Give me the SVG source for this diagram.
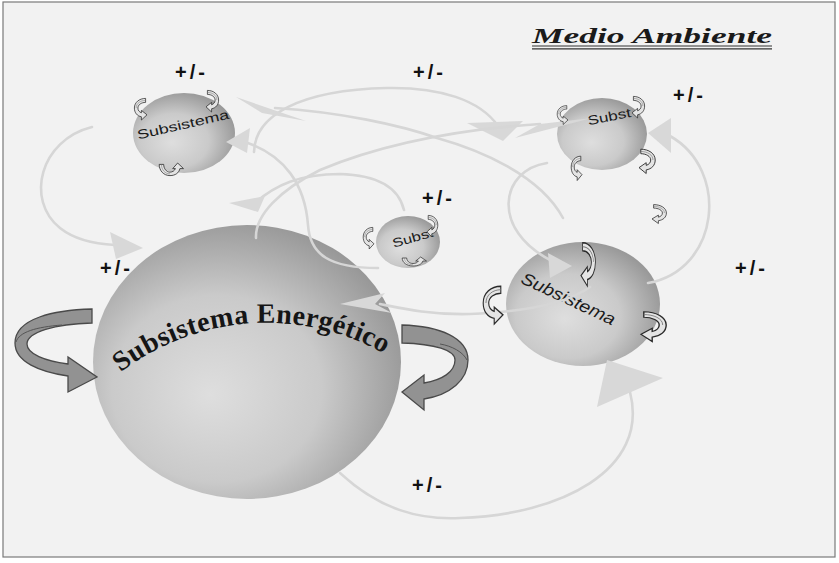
<svg xmlns="http://www.w3.org/2000/svg" width="839" height="563" viewBox="0 0 839 563">
  <defs>
    <radialGradient id="ball" cx="0.42" cy="0.58" r="0.62" fx="0.38" fy="0.62">
      <stop offset="0" stop-color="#dedede"/>
      <stop offset="0.55" stop-color="#cacaca"/>
      <stop offset="1" stop-color="#969696"/>
    </radialGradient>
    <!-- small twisted ribbon arrow, opening to the right, head at the lower end -->
    <g id="curl">
      <path class="curl" d="M8,-12 C-1,-12 -8,-7 -8,0 C-8,6 -4,10 2,11 L2,15 L10,8.5 L2,3 L2,6 C-1,5 -3,3 -3,0 C-3,-4 2,-7 8,-7 Z"/>
      <path d="M8,-9.5 C1,-9.5 -5.5,-6 -5.5,0" fill="none" stroke="#777" stroke-width="0.7"/>
    </g>
    <path id="energyArc" d="M116,376 A240,240 0 0 1 398,362"/>
  </defs>
  <style>
    .conn{fill:none;stroke:#d6d6d6;stroke-width:2.6;stroke-linecap:round}
    .head{fill:#d8d8d8}
    .pm{font-family:"Liberation Sans",Arial,sans-serif;font-size:20px;font-weight:bold;fill:#111;letter-spacing:3px}
    .ball{fill:url(#ball)}
    .curl{fill:#e4e4e4;stroke:#2a2a2a;stroke-width:1}
    .big-curl{fill:#929292;stroke:#4a4a4a;stroke-width:1.3}
    .lbl{font-family:"Liberation Sans",Arial,sans-serif;fill:#1a1a1a}
  </style>

  <!-- backdrop and frame -->
  <rect x="0" y="0" width="839" height="563" fill="#ffffff"/>
  <rect x="3" y="2" width="832" height="555" fill="#f2f2f2" stroke="#7a7a7a" stroke-width="1.2"/>

  <!-- title -->
  <g id="title">
    <text x="532" y="43" font-family="'Liberation Serif','Times New Roman',serif" font-size="22" font-weight="bold" font-style="italic" fill="#1a1a1a" textLength="240" lengthAdjust="spacingAndGlyphs">Medio Ambiente</text>
    <line x1="532" y1="46" x2="772" y2="46" stroke="#333" stroke-width="1.2"/>
    <line x1="532" y1="48.8" x2="772" y2="48.8" stroke="#333" stroke-width="1.2"/>
  </g>

  <!-- spheres -->
  <g id="node-energetico">
    <ellipse class="ball" cx="247" cy="362" rx="154" ry="137"/>
    <text font-family="'Liberation Serif','Times New Roman',serif" font-size="28" font-weight="bold" fill="#151515" letter-spacing="0.4">
      <textPath href="#energyArc" startOffset="6">Subsistema Energético</textPath>
    </text>
  </g>
  <g id="node-sub-tl">
    <ellipse class="ball" cx="184" cy="133" rx="51" ry="40"/>
    <text class="lbl" x="184" y="129" font-size="13" text-anchor="middle" textLength="94" lengthAdjust="spacingAndGlyphs" transform="rotate(-13 184 129)">Subsistema</text>
  </g>
  <g id="node-sub-tr">
    <ellipse class="ball" cx="602" cy="134" rx="45" ry="36"/>
    <text class="lbl" x="610" y="121" font-size="13" text-anchor="middle" textLength="44" lengthAdjust="spacingAndGlyphs" transform="rotate(-11 610 121)">Subst</text>
  </g>
  <g id="node-sub-mid">
    <ellipse class="ball" cx="408" cy="242" rx="32" ry="26"/>
    <text class="lbl" x="414" y="242" font-size="12.5" text-anchor="middle" textLength="42" lengthAdjust="spacingAndGlyphs" transform="rotate(-16 414 242)">Subst</text>
  </g>
  <g id="node-sub-right">
    <ellipse class="ball" cx="583" cy="304" rx="77" ry="62"/>
    <text class="lbl" x="566" y="304" font-size="17" font-style="italic" text-anchor="middle" textLength="102" lengthAdjust="spacingAndGlyphs" transform="rotate(25 566 304)">Subsistema</text>
  </g>

  <!-- connectors -->
  <g id="connectors">
    <path class="conn" d="M92,127 C40,140 25,200 60,228 C75,240 95,244 115,245"/>
    <polygon class="head" points="143,248 110,232 116,259"/>

    <path class="conn" d="M254,152 C255,115 300,90 387,88 C440,87 480,100 498,126"/>
    <polygon class="head" points="467,123 523,121 503,141"/>

    <path class="conn" d="M563,218 C540,175 480,150 437,138 C400,125 340,112 275,108"/>
    <polygon class="head" points="236,97 306,121 262,113"/>

    <path class="conn" d="M256,238 C255,215 280,190 320,170 C380,145 450,130 540,124"/>
    <polygon class="head" points="515,138 592,118 540,124"/>

    <path class="conn" d="M547,163 C500,170 490,230 552,261"/>
    <polygon class="head" points="548,253 572,266 550,278"/>

    <path class="conn" d="M404,210 C398,185 375,175 340,174 C300,174 275,185 255,203"/>
    <polygon class="head" points="229,203 265,196 258,212"/>

    <path class="conn" d="M245,142 C285,155 305,185 308,225 C310,255 330,268 378,268"/>
    <polygon class="head" points="226,142 250,128 247,153"/>

    <path class="conn" d="M590,287 C565,305 520,312 470,314 C430,315 400,308 380,304"/>
    <polygon class="head" points="340,304 385,293 375,304 392,313"/>

    <path class="conn" d="M648,283 C720,270 730,170 670,136"/>
    <polygon class="head" points="648,133 671,118 671,153"/>

    <path class="conn" d="M340,473 C380,510 420,520 460,518 C560,515 650,470 630,392"/>
    <polygon class="head" points="607,360 663,378 597,407"/>
  </g>

  <!-- big ribbon arrows around the energy subsystem -->
  <g id="loop-left">
    <path class="big-curl" d="M92,309 C55,310 15,318 15,343 C15,362 40,372 68,376 L68,392 L97,377 L68,357 L68,364 C45,361 27,354 27,344 C27,332 55,324 92,323 Z"/>
    <path d="M16,342 C19,332 36,327 62,325" fill="none" stroke="#555" stroke-width="1"/>
  </g>
  <g id="loop-right">
    <path class="big-curl" d="M402,325 C440,326 468,338 468,360 C468,380 450,395 424,399 L424,410 L402,392 L424,375 L424,383 C442,380 455,372 455,360 C455,350 435,344 402,343 Z"/>
    <path d="M467,360 C463,352 452,346 440,344" fill="none" stroke="#555" stroke-width="1"/>
  </g>

  <!-- small ribbon arrows -->
  <g id="curls">
    <use href="#curl" transform="translate(140,108) scale(0.7,0.8)"/>
    <use href="#curl" transform="translate(213,100) scale(-0.7,0.8)"/>
    <use href="#curl" transform="translate(170,170) rotate(-90) scale(0.7,0.9)"/>
    <use href="#curl" transform="translate(562,114) scale(0.6,0.7)"/>
    <use href="#curl" transform="translate(639,106) scale(-0.7,0.8)"/>
    <use href="#curl" transform="translate(576,167) scale(0.6,0.9)"/>
    <use href="#curl" transform="translate(648,160) scale(-0.9,0.9)"/>
    <use href="#curl" transform="translate(660,213) scale(-0.8,0.7)"/>
    <use href="#curl" transform="translate(368,237) scale(0.6,0.8)"/>
    <use href="#curl" transform="translate(433,225) scale(-0.6,0.8)"/>
    <use href="#curl" transform="translate(413,262) rotate(-90) scale(0.5,0.9)"/>
    <use href="#curl" transform="translate(589,262) scale(-0.8,1.6)"/>
    <use href="#curl" transform="translate(492,303) scale(1.1,1.4)"/>
    <use href="#curl" transform="translate(655,325) scale(-1.4,1.1)"/>
  </g>

  <!-- influence signs -->
  <g id="signs">
    <text class="pm" x="175" y="79">+/-</text>
    <text class="pm" x="413" y="79">+/-</text>
    <text class="pm" x="673" y="102">+/-</text>
    <text class="pm" x="422" y="205">+/-</text>
    <text class="pm" x="100" y="275">+/-</text>
    <text class="pm" x="735" y="275">+/-</text>
    <text class="pm" x="412" y="492">+/-</text>
  </g>
</svg>
